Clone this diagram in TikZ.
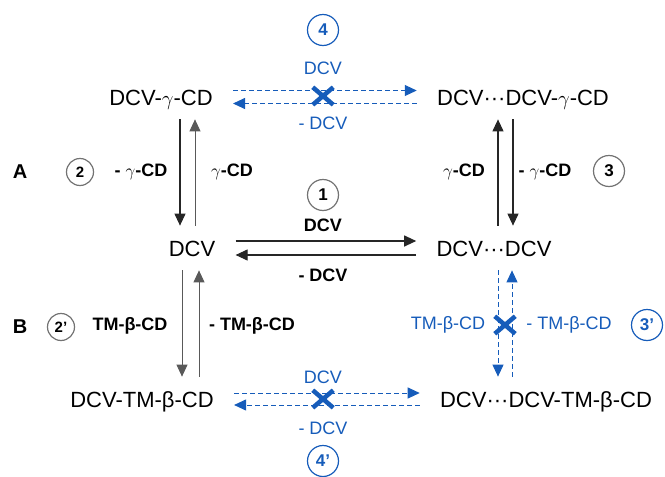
\documentclass[tikz,border=0pt]{standalone}
\usepackage{fontspec}
\setmainfont{Liberation Sans}
\usetikzlibrary{arrows.meta}
\usetikzlibrary{positioning, shapes.misc}
\definecolor{rxnblue}{RGB}{22,92,186}
\tikzset{every picture/.style={line width=0.75pt}}

\begin{document}
\begin{tikzpicture}[x=1pt, y=-1pt,
  species/.style={inner xsep=20pt, inner ysep=0pt, minimum height=44pt, text height=16pt, text depth=0pt, font=\fontsize{22}{26}\selectfont},
  lab/.style={inner sep=0pt, font=\fontsize{18}{21}\selectfont},
  blab/.style={lab, font=\fontsize{18}{21}\selectfont\bfseries},
  stepnum/.style={circle, draw=black!55, line width=1.2pt, minimum size=31pt, inner sep=0pt, font=\fontsize{17}{17}\selectfont\bfseries},
  rxn/.style={draw=black!85, line width=1.1pt, -{Triangle[length=12pt, width=11pt]}},
  blocked/.style={draw=rxnblue, line width=1pt, dash pattern=on 5pt off 3pt, -{Triangle[length=12pt, width=11pt]}},
  nogo/.style={cross out, draw=rxnblue, line width=4.5pt, minimum width=16pt, minimum height=13pt, inner sep=0pt}]
\useasboundingbox (0,0) rectangle (665,477);

\node[species] (cg) at (161,97) {DCV-$\gamma$-CD};
\node[species] (dcg) at (523,97) {DCV···DCV-$\gamma$-CD};
\node[species] (d) at (192,248) {DCV};
\node[species] (dd) at (494,248) {DCV···DCV};
\node[species] (ct) at (142,399) {DCV-TM-β-CD};
\node[species] (dct) at (546,399) {DCV···DCV-TM-β-CD};

\node[blab, font=\fontsize{20}{24}\selectfont\bfseries] (rowA) at (20,172) {A};
\node[blab, font=\fontsize{20}{24}\selectfont\bfseries] (rowB) at (20,327) {B};

% 1
\node[stepnum] (s1) at (323,195) {1};
\node[blab] (on1) at (323,225) {DCV};
\node[blab] (off1) at (323,275) {- DCV};
\draw[rxn] ([yshift=7pt]d.east) -- ([yshift=7pt]dd.west);
\draw[rxn] ([yshift=-7pt]dd.west) -- ([yshift=-7pt]d.east);

% 2 and 3
\node[stepnum, minimum size=27pt, font=\fontsize{15}{15}\selectfont\bfseries] (s2) at (80,172) {2};
\node[blab] (off2) at (141,172) {- $\gamma$-CD};
\node[blab] (on2) at (232,172) {$\gamma$-CD};
\draw[rxn] (cg.south -| 180,0) -- (d.north -| 180,0);
\draw[rxn, draw=black!65, line width=0.8pt] (d.north -| 195,0) -- (cg.south -| 195,0);

\node[stepnum] (s3) at (609,171) {3};
\node[blab] (on3) at (464,172) {$\gamma$-CD};
\node[blab] (off3) at (545,172) {- $\gamma$-CD};
\draw[rxn] (dd.north -| 498,0) -- (dcg.south -| 498,0);
\draw[rxn] (dcg.south -| 513,0) -- (dd.north -| 513,0);

% 2' and 3'
\node[stepnum, minimum size=27pt, font=\fontsize{15}{15}\selectfont\bfseries] (s2p) at (61,327) {2'};
\node[blab] (on2p) at (130,326) {TM-β-CD};
\node[blab] (off2p) at (252,326) {- TM-β-CD};
\draw[rxn, draw=black!65, line width=0.8pt] (d.south -| 182,0) -- (ct.north -| 182,0);
\draw[rxn, draw=black!65, line width=0.8pt] (ct.north -| 199,0) -- (d.south -| 199,0);

\node[stepnum, draw=rxnblue, text=rxnblue] (s3p) at (647,325) {3'};
\node[lab, text=rxnblue] (on3p) at (448,325) {TM-β-CD};
\node[lab, text=rxnblue] (off3p) at (569,325) {- TM-β-CD};
\draw[blocked] (dd.south -| 498,0) -- (dct.north -| 498,0);
\draw[blocked] (dct.north -| 512,0) -- (dd.south -| 512,0);
\node[nogo] (x3p) at (505,325) {};

% 4 and 4'
\node[stepnum, draw=rxnblue, text=rxnblue] (s4) at (323,30) {4};
\node[lab, text=rxnblue] (on4) at (323,68) {DCV};
\node[lab, text=rxnblue] (off4) at (323,123) {- DCV};
\draw[blocked] ([yshift=6.5pt]cg.east) -- ([yshift=6.5pt]dcg.west);
\draw[blocked] ([yshift=-6.5pt]dcg.west) -- ([yshift=-6.5pt]cg.east);
\node[nogo] (x4) at (323,96) {};

\node[stepnum, draw=rxnblue, text=rxnblue] (s4p) at (323,461) {4'};
\node[lab, text=rxnblue] (on4p) at (323,377) {DCV};
\node[lab, text=rxnblue] (off4p) at (323,428) {- DCV};
\draw[blocked] ([yshift=6pt]ct.east) -- ([yshift=6pt]dct.west);
\draw[blocked] ([yshift=-6pt]dct.west) -- ([yshift=-6pt]ct.east);
\node[nogo] (x4p) at (323,399) {};
\end{tikzpicture}
\end{document}
